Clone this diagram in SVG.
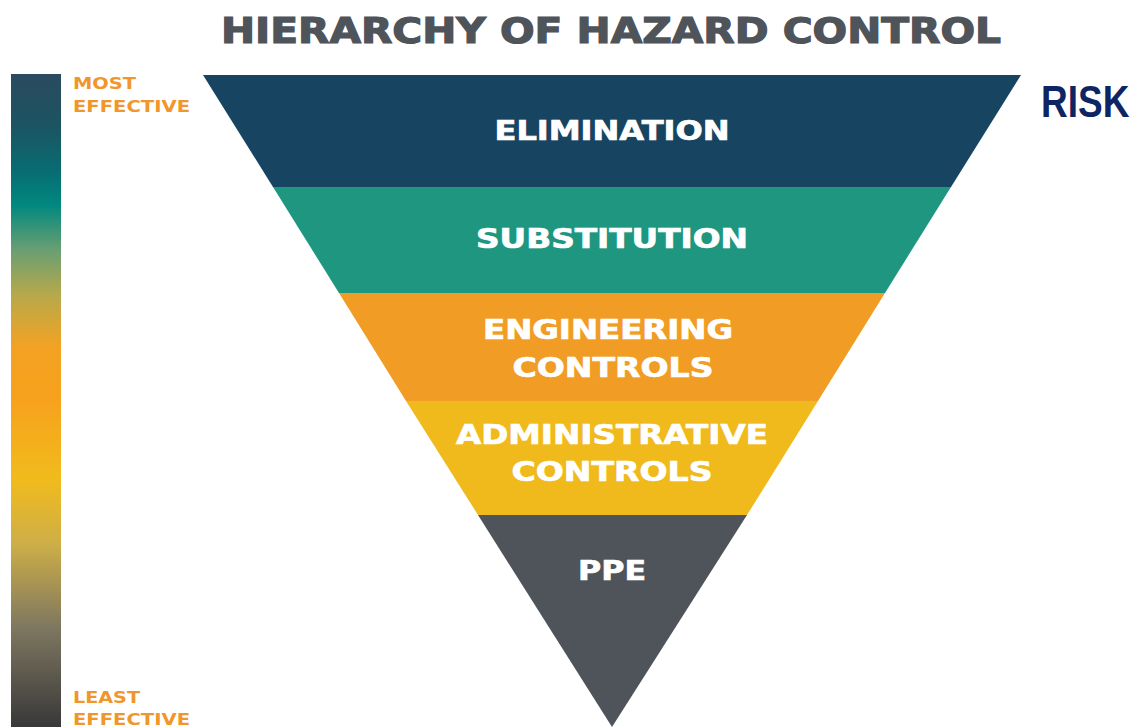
<svg xmlns="http://www.w3.org/2000/svg" width="1134" height="727" viewBox="0 0 1134 727">
<defs>
<linearGradient id="bar" x1="0" y1="74" x2="0" y2="727" gradientUnits="userSpaceOnUse">
<stop offset="0" stop-color="#2b4a5f"/>
<stop offset="0.08" stop-color="#1b5462"/>
<stop offset="0.15" stop-color="#086d73"/>
<stop offset="0.2" stop-color="#00887f"/>
<stop offset="0.27" stop-color="#6a9f72"/>
<stop offset="0.34" stop-color="#b8a94a"/>
<stop offset="0.42" stop-color="#f4a223"/>
<stop offset="0.5" stop-color="#f7a21d"/>
<stop offset="0.62" stop-color="#f1bb1c"/>
<stop offset="0.72" stop-color="#cdae48"/>
<stop offset="0.85" stop-color="#7d7660"/>
<stop offset="1" stop-color="#383838"/>
</linearGradient>
<style>
.title{font-family:"DejaVu Sans","Liberation Sans",sans-serif;font-weight:bold;fill:#4e545a;stroke:#4e545a;stroke-width:1.2}
.band{font-family:"DejaVu Sans","Liberation Sans",sans-serif;font-weight:bold;fill:#ffffff;stroke:#ffffff;stroke-width:0.7;text-anchor:middle}
.eff{font-family:"DejaVu Sans","Liberation Sans",sans-serif;font-weight:bold;fill:#f0962a;font-size:16px}
.risk{font-family:"Liberation Sans",Arial,sans-serif;font-weight:bold;fill:#0f2463}
</style>
</defs>
<rect width="1134" height="727" fill="#ffffff"/>
<text class="title" x="221" y="43" font-size="35" textLength="780" lengthAdjust="spacingAndGlyphs">HIERARCHY OF HAZARD CONTROL</text>
<g id="scale">
<rect x="11" y="74" width="50" height="653" fill="url(#bar)"/>
<text class="eff" x="73" y="89" textLength="63" lengthAdjust="spacingAndGlyphs">MOST</text>
<text class="eff" x="73" y="112" textLength="117" lengthAdjust="spacingAndGlyphs">EFFECTIVE</text>
<text class="eff" x="73" y="703" textLength="67" lengthAdjust="spacingAndGlyphs">LEAST</text>
<text class="eff" x="73" y="725" textLength="117" lengthAdjust="spacingAndGlyphs">EFFECTIVE</text>
</g>
<g id="elimination">
<polygon points="203,75 1021,75 951,187 273,187" fill="#174561"/>
<text class="band" x="612" y="140" font-size="26" textLength="235" lengthAdjust="spacingAndGlyphs">ELIMINATION</text>
</g>
<g id="substitution">
<polygon points="273,187 951,187 885,293 339,293" fill="#1f9680"/>
<text class="band" x="612" y="248" font-size="26" textLength="272" lengthAdjust="spacingAndGlyphs">SUBSTITUTION</text>
</g>
<g id="engineering">
<polygon points="339,293 885,293 818,401 406,401" fill="#f19c24"/>
<text class="band" x="608" y="339" font-size="26" textLength="250" lengthAdjust="spacingAndGlyphs">ENGINEERING</text>
<text class="band" x="613" y="377" font-size="26" textLength="201" lengthAdjust="spacingAndGlyphs">CONTROLS</text>
</g>
<g id="administrative">
<polygon points="406,401 818,401 747,515 478,515" fill="#f0b91c"/>
<text class="band" x="612" y="444" font-size="26" textLength="312" lengthAdjust="spacingAndGlyphs">ADMINISTRATIVE</text>
<text class="band" x="612" y="481" font-size="26" textLength="201" lengthAdjust="spacingAndGlyphs">CONTROLS</text>
</g>
<g id="ppe">
<polygon points="478,515 747,515 612,727" fill="#4e545a"/>
<text class="band" x="612" y="580" font-size="26" textLength="68" lengthAdjust="spacingAndGlyphs">PPE</text>
</g>
<text class="risk" x="1041" y="96" font-size="37" transform="scale(1,1.22)">RISK</text>
<g id="connectors"/>
</svg>
